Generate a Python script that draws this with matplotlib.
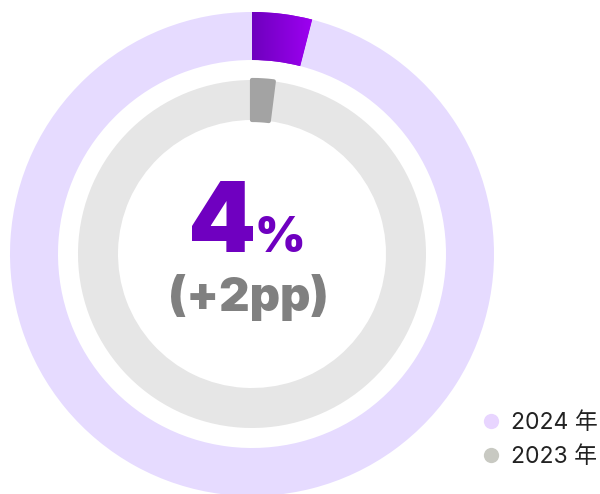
import numpy as np
import matplotlib.pyplot as plt
from matplotlib.lines import Line2D
from matplotlib.colors import LinearSegmentedColormap

plt.rcParams['font.family'] = ['Inter', 'Noto Sans CJK SC', 'DejaVu Sans']

years = ['2024 年', '2023 年']
shares = [4, 2]          # percent
change_label = '(+2pp)'

outer_vals = [shares[0], 100 - shares[0]]
inner_vals = [shares[1], 100 - shares[1]]

fig = plt.figure(figsize=(6, 4.94), dpi=100)
ax = fig.add_axes([0, 0, 1, 1])

cx, cy = 252, 240
outer_w, _ = ax.pie(outer_vals, colors=['#8a00dc', '#e6dbff'], radius=242,
                    center=(cx, cy), startangle=90, counterclock=False,
                    wedgeprops=dict(width=48, linewidth=0))
inner_w, _ = ax.pie(inner_vals, colors=['#a3a3a3', '#e6e6e6'], radius=174,
                    center=(cx, cy), startangle=90, counterclock=False,
                    wedgeprops=dict(width=40, linewidth=0))
# round the corners of the small gray slice
inner_w[0].set_edgecolor('#a3a3a3')
inner_w[0].set_linewidth(3)
inner_w[0].set_joinstyle('round')
inner_w[0].set_zorder(3)

# gradient on the purple slice
cmap = LinearSegmentedColormap.from_list('p', ['#6c00bc', '#a200f6'])
grad = np.linspace(0, 1, 256).reshape(1, -1)
im = ax.imshow(grad, cmap=cmap, extent=(cx - 2, cx + 66, cy + 180, cy + 245),
               aspect='auto', zorder=4)
im.set_clip_path(outer_w[0])

ax.set_xlim(0, 600)
ax.set_ylim(0, 494)
ax.set_aspect('auto')
ax.axis('off')

ax.text(256, 242, str(shares[0]), ha='right', va='baseline', fontsize=70,
        fontweight='black', color='#6f00c0', family=['Inter', 'DejaVu Sans'])
ax.text(254, 242, '%', ha='left', va='baseline', fontsize=35,
        fontweight='black', color='#6f00c0', family=['Inter', 'DejaVu Sans'])
ax.text(248, 183, change_label, ha='center', va='baseline', fontsize=34,
        fontweight='black', color='#808080', family=['Inter', 'DejaVu Sans'])

handles = [Line2D([], [], marker='o', linestyle='', markersize=11,
                  markerfacecolor=c, markeredgewidth=0)
           for c in ['#e8d5ff', '#c8c9c2']]
ax.legend(handles, years, loc='lower right', bbox_to_anchor=(1.011, 0.035),
          frameon=False, fontsize=16.5, handletextpad=0.35, labelspacing=0.5,
          handlelength=1.0, borderaxespad=0.0, labelcolor='#222222')

fig.savefig('out.png', dpi=100)
